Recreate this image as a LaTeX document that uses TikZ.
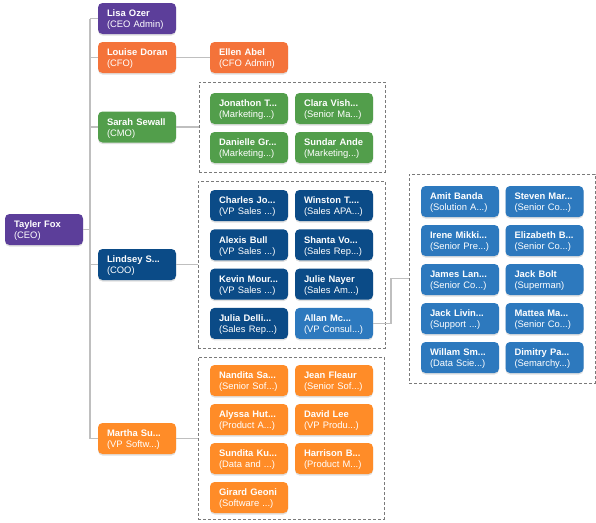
\documentclass[tikz,border=0pt]{standalone}
\usepackage{fontspec}
\setmainfont{Liberation Sans}
\usetikzlibrary{shadows}
\definecolor{cpurple}{HTML}{5C3E9A}
\definecolor{corange}{HTML}{F4733A}
\definecolor{cgreen}{HTML}{529E4B}
\definecolor{cdblue}{HTML}{0B4B87}
\definecolor{clblue}{HTML}{2D79BE}
\definecolor{corange2}{HTML}{FF8C28}
\definecolor{cline}{HTML}{BFBFBF}
\definecolor{cdash}{HTML}{7A7A7A}
\tikzset{
  emp/.style={rectangle, rounded corners=4.5pt, minimum width=78pt, minimum height=31pt,
    text width=60pt, inner xsep=9pt, inner ysep=0pt, align=left, text=white,
    font=\fontsize{9.4}{11}\selectfont,
    drop shadow={opacity=0.25, shadow xshift=0pt, shadow yshift=-1.5pt}},
  grp/.style={rectangle, draw=cdash, densely dashed, line width=0.8pt, inner sep=0pt},
  conn/.style={draw=cline, line width=1.6pt}
}
\newcommand{\emp}[6]{\node[emp, fill=#4] (#1) at (#2,#3) {\rule{0pt}{9.6pt}\mbox{\textbf{#5}}\\\mbox{#6}};}
\begin{document}
\begin{tikzpicture}[x=1pt,y=-1pt]
\useasboundingbox (0,0) rectangle (596,522);
% groups
\node[grp, minimum width=186pt, minimum height=90pt] (cmogrp) at (292,127) {};
\node[grp, minimum width=187pt, minimum height=167pt] (coogrp) at (291.5,264.5) {};
\node[grp, minimum width=186pt, minimum height=209pt] (congrp) at (502,278.5) {};
\node[grp, minimum width=186pt, minimum height=162pt] (swgrp) at (291,438) {};
% trunk
\coordinate (trunk) at (90,229.5);
% people
\emp{tayler}{44}{229.5}{cpurple}{Tayler Fox}{(CEO)}
\emp{lisa}{137}{18.5}{cpurple}{Lisa Ozer}{(CEO Admin)}
\emp{louise}{137}{57.5}{corange}{Louise Doran}{(CFO)}
\emp{ellen}{249}{57.5}{corange}{Ellen Abel}{(CFO Admin)}
\emp{sarah}{137}{127}{cgreen}{Sarah Sewall}{(CMO)}
\emp{lindsey}{137}{264.5}{cdblue}{Lindsey S...}{(COO)}
\emp{martha}{137}{438.5}{corange2}{Martha Su...}{(VP Softw...)}
% CMO group
\emp{jonathon}{249}{108.5}{cgreen}{Jonathon T...}{(Marketing...)}
\emp{clara}{334}{108.5}{cgreen}{Clara Vish...}{(Senior Ma...)}
\emp{danielle}{249}{147.5}{cgreen}{Danielle Gr...}{(Marketing...)}
\emp{sundar}{334}{147.5}{cgreen}{Sundar Ande}{(Marketing...)}
% COO group
\emp{charles}{249}{205.5}{cdblue}{Charles Jo...}{(VP Sales ...)}
\emp{winston}{334}{205.5}{cdblue}{Winston T....}{(Sales APA...)}
\emp{alexis}{249}{244.8}{cdblue}{Alexis Bull}{(VP Sales ...)}
\emp{shanta}{334}{244.8}{cdblue}{Shanta Vo...}{(Sales Rep...)}
\emp{kevin}{249}{284.1}{cdblue}{Kevin Mour...}{(VP Sales ...)}
\emp{julie}{334}{284.1}{cdblue}{Julie Nayer}{(Sales Am...)}
\emp{julia}{249}{323.4}{cdblue}{Julia Delli...}{(Sales Rep...)}
\emp{allan}{334}{323.4}{clblue}{Allan Mc...}{(VP Consul...)}
% consulting group
\emp{amit}{460}{201.5}{clblue}{Amit Banda}{(Solution A...)}
\emp{steven}{544.5}{201.5}{clblue}{Steven Mar...}{(Senior Co...)}
\emp{irene}{460}{240.5}{clblue}{Irene Mikki...}{(Senior Pre...)}
\emp{elizabeth}{544.5}{240.5}{clblue}{Elizabeth B...}{(Senior Co...)}
\emp{james}{460}{279.5}{clblue}{James Lan...}{(Senior Co...)}
\emp{jack}{544.5}{279.5}{clblue}{Jack Bolt}{(Superman)}
\emp{jackl}{460}{318.5}{clblue}{Jack Livin...}{(Support ...)}
\emp{mattea}{544.5}{318.5}{clblue}{Mattea Ma...}{(Senior Co...)}
\emp{willam}{460}{357.5}{clblue}{Willam Sm...}{(Data Scie...)}
\emp{dimitry}{544.5}{357.5}{clblue}{Dimitry Pa...}{(Semarchy...)}
% software group
\emp{nandita}{249}{380.5}{corange2}{Nandita Sa...}{(Senior Sof...)}
\emp{jean}{334}{380.5}{corange2}{Jean Fleaur}{(Senior Sof...)}
\emp{alyssa}{249}{419.5}{corange2}{Alyssa Hut...}{(Product A...)}
\emp{david}{334}{419.5}{corange2}{David Lee}{(VP Produ...)}
\emp{sundita}{249}{458.5}{corange2}{Sundita Ku...}{(Data and ...)}
\emp{harrison}{334}{458.5}{corange2}{Harrison B...}{(Product M...)}
\emp{girard}{249}{497.5}{corange2}{Girard Geoni}{(Software ...)}
% connectors
\draw[conn] (lisa.west -| trunk) -- (martha.west -| trunk);
\draw[conn] (tayler.east) -- (tayler.east -| trunk);
\draw[conn] (lisa.west) -- (lisa.west -| trunk);
\draw[conn] (louise.west) -- (louise.west -| trunk);
\draw[conn] (sarah.west) -- (sarah.west -| trunk);
\draw[conn] (lindsey.west) -- (lindsey.west -| trunk);
\draw[conn] (martha.west) -- (martha.west -| trunk);
\draw[conn] (louise.east) -- (ellen.west);
\draw[conn] (sarah.east) -- (sarah.east -| cmogrp.west);
\draw[conn] (lindsey.east) -- (lindsey.east -| coogrp.west);
\draw[conn] (martha.east) -- (martha.east -| swgrp.west);
\draw[conn] (allan.east) -- ++(18,0) |- (congrp.west);
\end{tikzpicture}
\end{document}
